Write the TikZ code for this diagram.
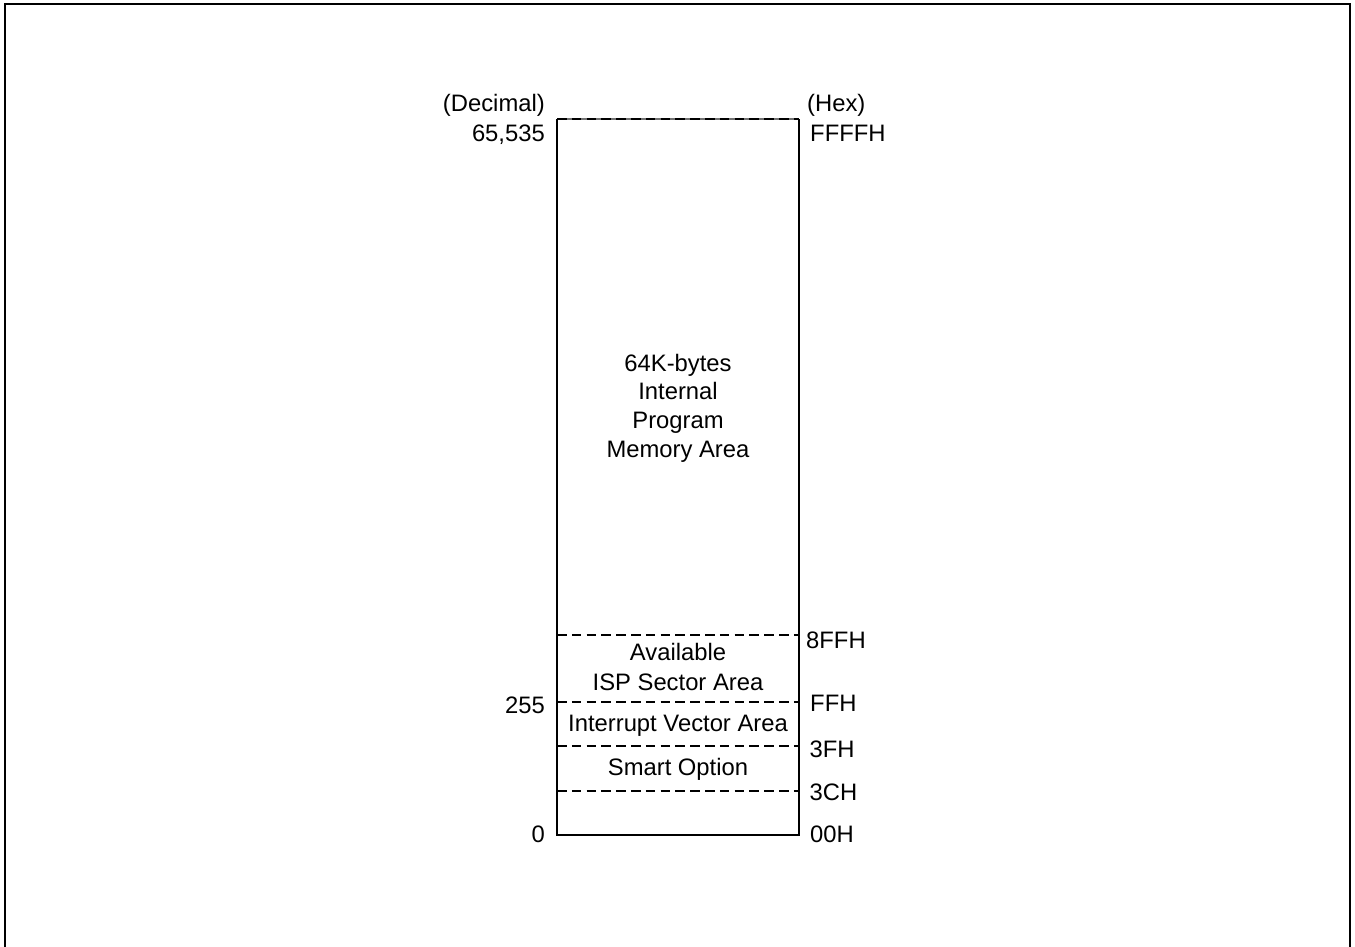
\documentclass[tikz,border=0pt]{standalone}
\usepackage{fontspec}
\setmainfont{Liberation Sans}
\begin{document}
\begin{tikzpicture}[x=1pt,y=-1pt,
  font=\fontsize{23.8}{28.6}\selectfont,
  frameline/.style={line width=2pt},
  boxline/.style={line width=1.5pt},
  sepline/.style={line width=1.5pt, dash pattern=on 9.5pt off 5.3pt},
  leftlab/.style={anchor=base east, inner sep=0pt},
  rightlab/.style={anchor=base west, inner sep=0pt},
  arealab/.style={anchor=base, inner sep=0pt, align=center}]
\useasboundingbox (0,0) rectangle (1355,947);
% outer frame (open at bottom)
\coordinate (f1) at (4.5,947);
\coordinate (f2) at (4.5,4);
\coordinate (f3) at (1350,4);
\coordinate (f4) at (1350,947);
\draw[frameline] (f1) -- (f2) -- (f3) -- (f4);
% memory box
\coordinate (tl) at (557,119);
\coordinate (tr) at (799,119);
\coordinate (bl) at (557,835);
\coordinate (br) at (799,835);
\draw[boxline] (tl) -- (bl) -- (br) -- (tr);
\draw[boxline, black!55] (tl) -- (tr);
\draw[sepline] (tl) -- (tr);
% separators
\coordinate (s1l) at (557,635); \coordinate (s1r) at (799,635);
\coordinate (s2l) at (557,702); \coordinate (s2r) at (799,702);
\coordinate (s3l) at (557,746); \coordinate (s3r) at (799,746);
\coordinate (s4l) at (557,791); \coordinate (s4r) at (799,791);
\draw[sepline] (s1l) -- (s1r);
\draw[sepline] (s2l) -- (s2r);
\draw[sepline] (s3l) -- (s3r);
\draw[sepline] (s4l) -- (s4r);
% area labels
\node[arealab] (main) at (678,457) {64K-bytes\\Internal\\Program\\Memory Area};
\node[arealab] (isp1) at (678,660.7) {Available};
\node[arealab] (isp2) at (678,690.7) {ISP Sector Area};
\node[arealab] (ivec) at (678,731.7) {Interrupt Vector Area};
\node[arealab] (smart) at (678,775) {Smart Option};
% left labels
\node[leftlab] (dec) at (545,111.7) {(Decimal)};
\node[leftlab] (d65535) at (545,142) {65,535};
\node[leftlab] (d255) at (545,713) {255};
\node[leftlab] (d0) at (545,842) {0};
% right labels
\node[rightlab] (hex) at (807,112) {(Hex)};
\node[rightlab] (hFFFFH) at (810,142) {FFFFH};
\node[rightlab] (h8FFH) at (806,648.3) {8FFH};
\node[rightlab] (hFFH) at (810,711.7) {FFH};
\node[rightlab] (h3FH) at (809.5,757) {3FH};
\node[rightlab] (h3CH) at (809.5,800) {3CH};
\node[rightlab] (h00H) at (810,842) {00H};
\end{tikzpicture}
\end{document}
